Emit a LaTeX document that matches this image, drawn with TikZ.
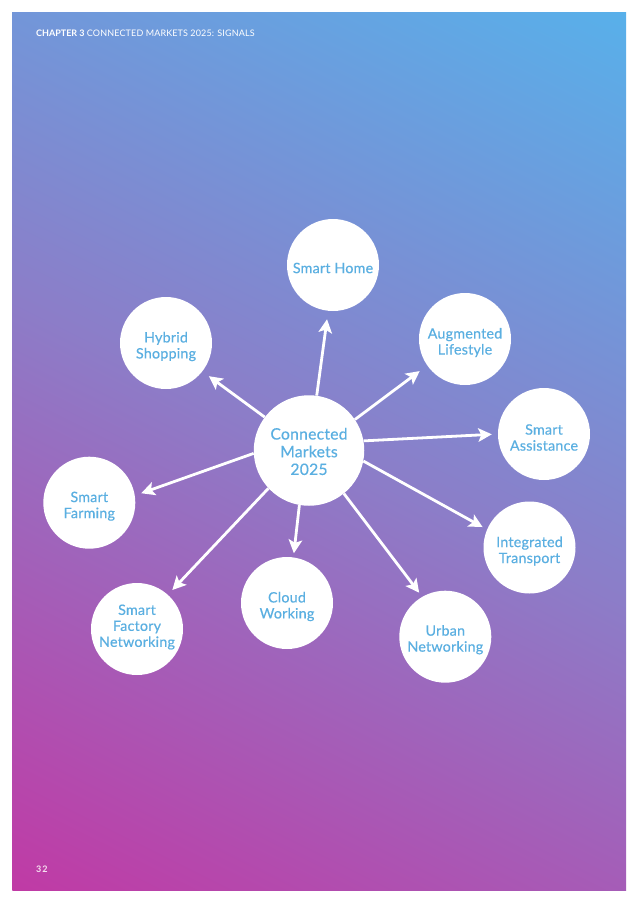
\documentclass[tikz,border=0pt]{standalone}
\usepackage{fontspec}
\setmainfont{Lato}
\newfontfamily\lblfont[FakeBold=0.4,LetterSpace=1.5]{Lato}
\usetikzlibrary{arrows.meta}
\definecolor{lbl}{RGB}{90,175,225}
\definecolor{gA}{RGB}{192,58,165}
\definecolor{gB}{RGB}{140,125,200}
\definecolor{gC}{RGB}{88,176,234}
\tikzset{
 bub/.style={circle,fill=white,minimum size=92pt,inner sep=0pt},
 hub/.style={bub,minimum size=110.5pt},
 txt/.style={align=center,text=lbl,inner sep=0pt,font=\lblfont\fontsize{14.3}{16}\selectfont},
 hubtxt/.style={align=center,text=lbl,inner sep=0pt,font=\lblfont\fontsize{15.7}{17.7}\selectfont},
 link/.style={draw=white,line width=2.8pt,-{Stealth[length=13.5pt,width=13.5pt,inset=3pt]}},
 pagetext/.style={anchor=west,text=white,inner sep=0pt,font=\fontsize{9}{11}\selectfont},
}
\begin{document}
\begin{tikzpicture}[x=1pt,y=-1pt]
\useasboundingbox (0,0) rectangle (638,903);
\fill[white] (0,0) rectangle (638,903);
\begin{scope}
\clip (12,12) rectangle (626,890);
\begin{scope}[transform canvas={rotate around={-26.4:(319,451)}}]
\shade[bottom color=gA,top color=gC,middle color=gB] (-401,-79) rectangle (1039,981);
\end{scope}
\end{scope}
\node[pagetext] (hdr) at (36,33) {\textbf{CHAPTER 3} \addfontfeatures{LetterSpace=1.5}CONNECTED MARKETS 2025: SIGNALS};
\node[pagetext,text=white!85!gA] (pg) at (36,869) {\bfseries\addfontfeatures{LetterSpace=10}32};
\node[hub,label={[hubtxt,yshift=-1pt]center:Connected\\Markets\\2025}] (c) at (309,450.5) {};
\node[bub,label={[txt,yshift=-3pt]center:Smart Home}] (home) at (333,265) {};
\node[bub,label={[txt,yshift=-3.5pt]center:Augmented\\Lifestyle}] (aug) at (465,339) {};
\node[bub,label={[txt,yshift=-3.5pt]center:Smart\\Assistance}] (ass) at (544,434) {};
\node[bub,label={[txt,yshift=-3.5pt]center:Integrated\\Transport}] (int) at (529.5,547.5) {};
\node[bub,label={[txt,yshift=-3pt]center:Urban\\Networking}] (urb) at (445.3,636.7) {};
\node[bub,label={[txt,yshift=-3.5pt]center:Cloud\\Working}] (cld) at (287,603) {};
\node[bub,label={[txt,yshift=2pt]center:Smart\\Factory\\Networking}] (fac) at (137,629) {};
\node[bub,label={[txt,yshift=-3.5pt]center:Smart\\Farming}] (frm) at (89.3,502.7) {};
\node[bub,label={[txt,yshift=-3.5pt]center:Hybrid\\Shopping}] (hyb) at (166,343) {};
\draw[link,shorten >=8.4pt] (c.82.8) -- (home.264);
\draw[link,shorten >=9.3pt] (c.34.4) -- (aug.215.2);
\draw[link,shorten >=6pt] (c.10) -- (ass.180);
\draw[link,shorten >=5pt] (c.349) -- (int.157.6);
\draw[link,shorten >=5pt] (c.309.6) -- (urb.120.4);
\draw[link,shorten >=4pt] (c.260.6) -- (cld.82);
\draw[link,shorten >=6.4pt] (c.223.2) -- (fac.48.4);
\draw[link,shorten >=6.7pt] (c.183.6) -- (frm.9.4);
\draw[link,shorten >=8pt] (c.143.1) -- (hyb.322.7);
\end{tikzpicture}
\end{document}
